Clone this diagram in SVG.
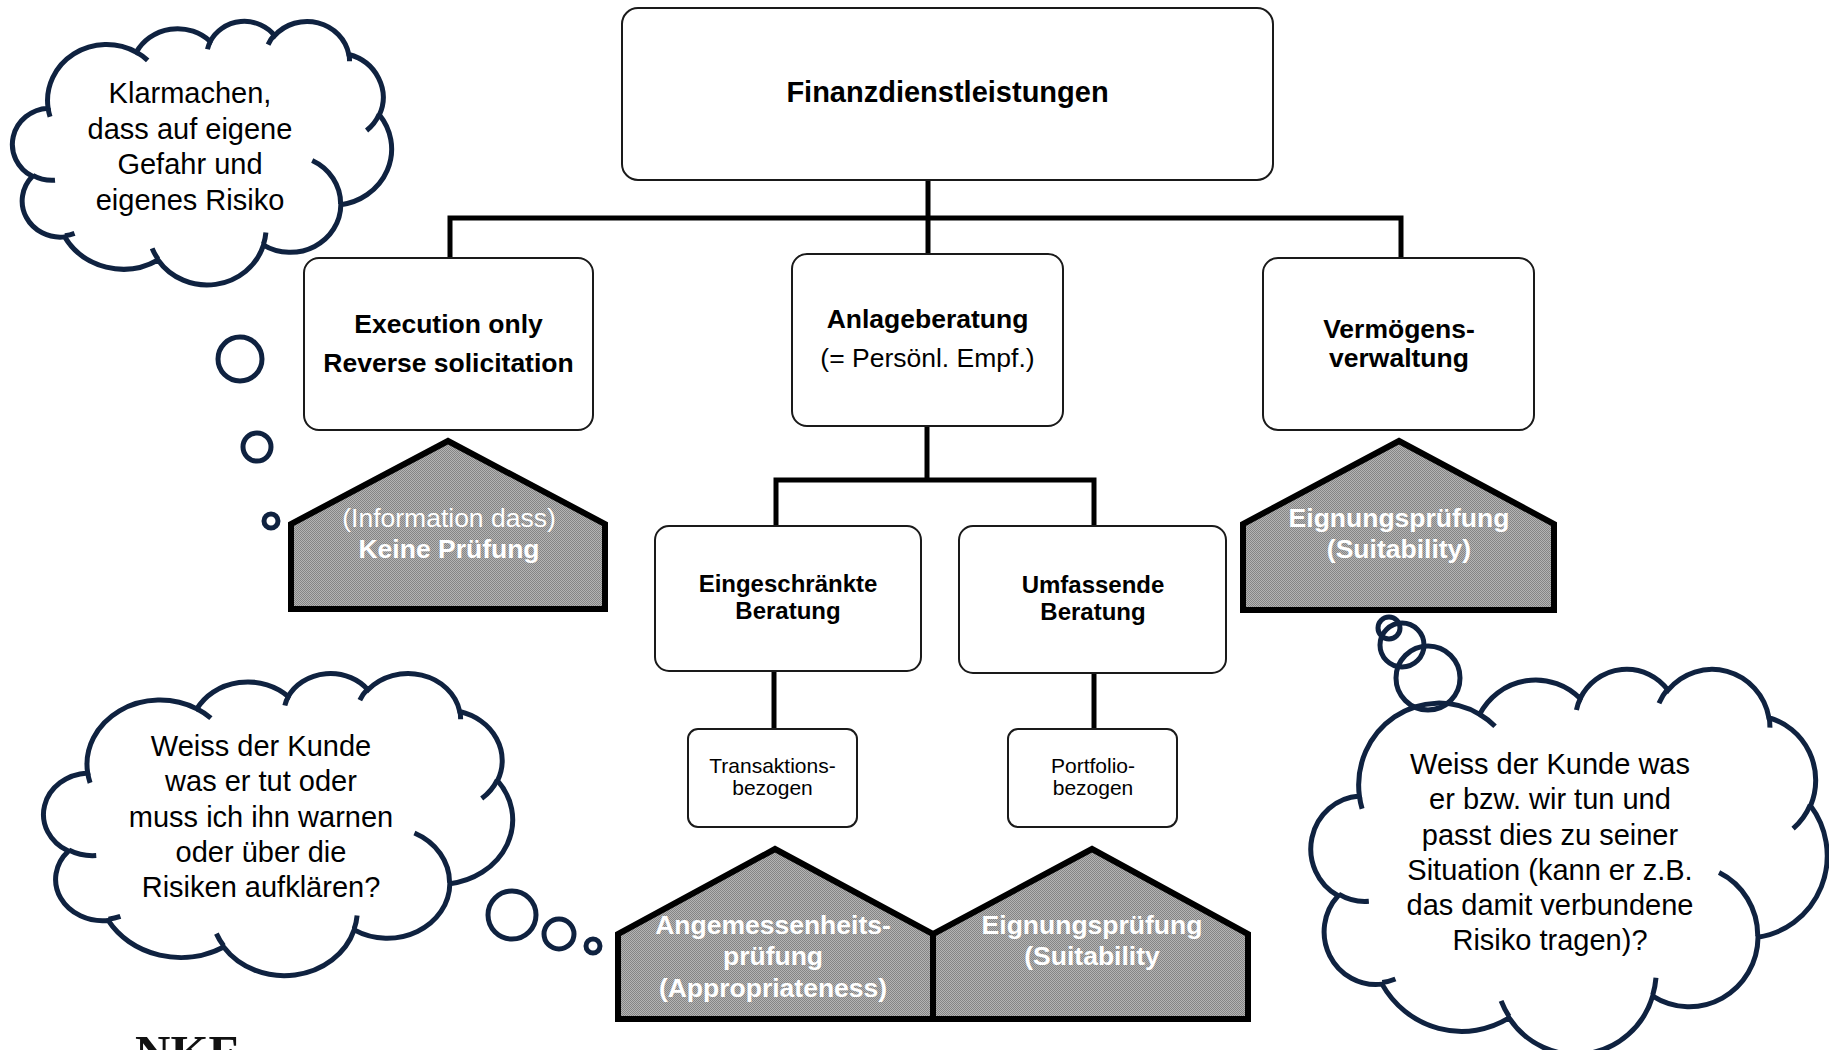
<svg xmlns="http://www.w3.org/2000/svg" xmlns:xlink="http://www.w3.org/1999/xlink" width="1829" height="1050" viewBox="0 0 1829 1050">
<style>
.box{fill:#fff;stroke:#1a1a1a;stroke-width:2}
.conn{fill:none;stroke:#000;stroke-width:5;stroke-linejoin:miter}
.house{fill:url(#dots);stroke:#000;stroke-width:6;stroke-linejoin:miter}
.cloud{fill:#fff;stroke:#0f2240;stroke-width:5;vector-effect:non-scaling-stroke}
.crease{fill:none;stroke:#0f2240;stroke-width:5;vector-effect:non-scaling-stroke}
.bubble{fill:none;stroke:#0f2240;stroke-width:5}
text{font-family:"Liberation Sans",Arial,sans-serif;text-anchor:middle;fill:#000}
.b{font-weight:bold;font-size:26.5px}
.r{font-size:26.5px}
.w{fill:#fff}
.s{font-size:21px}
.bm{font-weight:bold;font-size:24px}
.ct{font-size:29px}
</style>
<defs>
<pattern id="dots" width="2" height="2" patternUnits="userSpaceOnUse">
<rect width="2" height="2" fill="#b4b4b4"/>
<rect width="1" height="1" fill="#858585"/>
<rect x="1" y="1" width="1" height="1" fill="#858585"/>
</pattern>
<path id="cloudOutline" class="cloud" vector-effect="non-scaling-stroke" d="M39,143.7 A67.53,91.9 0 0 1 140.05,52.02 A53.33,72.67 0 0 1 224.56,34.32 A43.65,59.45 0 0 1 298.34,24.83 A48.57,65.95 0 0 1 383.19,55.79 A53.33,72.73 0 0 1 418.19,154.63 A67.75,92.2 0 0 1 374.03,302.03 A57.85,78.67 0 0 1 285.54,368.13 A67.52,92.15 0 0 1 164.79,392.65 A77.2,105.43 0 0 1 58.03,354.72 A43.6,59.18 0 0 1 21.12,255.49 A43.45,59.45 0 0 1 39,143.7 Z"/>
<path id="cloudCreases" class="crease" vector-effect="non-scaling-stroke" d="M46.93,261.77 A43.45,59.45 0 0 1 21.59,253.79 M69.28,348.99 A43.6,59.18 0 0 1 58.19,352.81 M164.78,390.9 A67.52,92.15 0 0 1 158.1,373.5 M288.27,347.51 A67.52,92.15 0 0 1 285.6,366.6 M341.29,229.54 A57.85,78.67 0 0 1 373.8,300.89 M417.98,153.54 A53.33,72.73 0 0 1 403.51,180.3 M383.24,54.26 A48.57,65.95 0 0 1 384.01,66.9 M290.78,39.52 A48.57,65.95 0 0 1 298.2,23.4 M221.41,47.2 A43.65,59.45 0 0 1 225,33.3 M140,51.92 A67.53,91.9 0 0 1 152.99,65.39 M41.27,157.89 A67.53,91.9 0 0 1 39,143.7"/>
</defs>
<rect width="1829" height="1050" fill="#fff"/>

<g id="connectors">
<path class="conn" d="M928,180 V254"/>
<path class="conn" d="M450,258 V218 H1401 V258"/>
<path class="conn" d="M927,427 V480"/>
<path class="conn" d="M776,526 V480 H1094 V526"/>
<path class="conn" d="M774,671 V729"/>
<path class="conn" d="M1094,673 V729"/>
</g>

<g id="finanzdienstleistungen">
<rect class="box" x="622" y="8" width="651" height="172" rx="16"/>
<text class="b" style="font-size:29px" x="947.5" y="102">Finanzdienstleistungen</text>
</g>

<g id="execution-only">
<rect class="box" x="304" y="258" width="289" height="172" rx="15"/>
<text class="b" x="448.5" y="333">Execution only</text>
<text class="b" x="448.5" y="372">Reverse solicitation</text>
</g>

<g id="anlageberatung">
<rect class="box" x="792" y="254" width="271" height="172" rx="15"/>
<text class="b" x="927.5" y="328">Anlageberatung</text>
<text class="r" x="927.5" y="367">(= Persönl. Empf.)</text>
</g>

<g id="vermoegensverwaltung">
<rect class="box" x="1263" y="258" width="271" height="172" rx="15"/>
<text class="b" x="1399" y="338">Vermögens-</text>
<text class="b" x="1399" y="367">verwaltung</text>
</g>

<g id="eingeschraenkte-beratung">
<rect class="box" x="655" y="526" width="266" height="145" rx="14"/>
<text class="bm" x="788" y="592">Eingeschränkte</text>
<text class="bm" x="788" y="619">Beratung</text>
</g>

<g id="umfassende-beratung">
<rect class="box" x="959" y="526" width="267" height="147" rx="14"/>
<text class="bm" x="1093" y="593">Umfassende</text>
<text class="bm" x="1093" y="620">Beratung</text>
</g>

<g id="transaktionsbezogen">
<rect class="box" x="688" y="729" width="169" height="98" rx="10"/>
<text class="s" x="772.5" y="773">Transaktions-</text>
<text class="s" x="772.5" y="795">bezogen</text>
</g>

<g id="portfoliobezogen">
<rect class="box" x="1008" y="729" width="169" height="98" rx="10"/>
<text class="s" x="1093" y="773">Portfolio-</text>
<text class="s" x="1093" y="795">bezogen</text>
</g>

<g id="keine-pruefung">
<path class="house" d="M448,441 L605,524 V609 H291 V524 Z"/>
<text class="r w" x="449" y="527">(Information dass)</text>
<text class="b w" x="449" y="558">Keine Prüfung</text>
</g>

<g id="eignungspruefung-verwaltung">
<path class="house" d="M1399,441 L1554,524 V610 H1243 V524 Z"/>
<text class="b w" x="1399" y="527">Eignungsprüfung</text>
<text class="b w" x="1399" y="558">(Suitability)</text>
</g>

<g id="angemessenheitspruefung">
<path class="house" d="M775,849 L933,934 V1019 H618 V934 Z"/>
<text class="b w" x="773" y="934">Angemessenheits-</text>
<text class="b w" x="773" y="965">prüfung</text>
<text class="b w" x="773" y="997">(Appropriateness)</text>
</g>

<g id="eignungspruefung-beratung">
<path class="house" d="M1092,849 L1248,934 V1019 H933 V934 Z"/>
<text class="b w" x="1092" y="934">Eignungsprüfung</text>
<text class="b w" x="1092" y="965">(Suitability</text>
</g>

<g id="cloud-eigene-gefahr">
<g transform="translate(14,20.5) scale(0.8738,0.61)">
<use xlink:href="#cloudOutline"/>
<use xlink:href="#cloudCreases"/>
</g>
<circle class="bubble" cx="240" cy="359" r="22"/>
<circle class="bubble" cx="257" cy="447" r="14"/>
<circle class="bubble" cx="271" cy="521" r="7"/>
<text class="ct" x="190" y="103">Klarmachen,</text>
<text class="ct" x="190" y="138.5">dass auf eigene</text>
<text class="ct" x="190" y="174">Gefahr und</text>
<text class="ct" x="190" y="209.5">eigenes Risiko</text>
</g>

<g id="cloud-warnen">
<g transform="translate(45.5,672.5) scale(1.081,0.6991)">
<use xlink:href="#cloudOutline"/>
<use xlink:href="#cloudCreases"/>
</g>
<circle class="bubble" cx="512" cy="915" r="24"/>
<circle class="bubble" cx="559" cy="934" r="15"/>
<circle class="bubble" cx="593" cy="946" r="7"/>
<text class="ct" x="261" y="756">Weiss der Kunde</text>
<text class="ct" x="261" y="791">was er tut oder</text>
<text class="ct" x="261" y="826.5">muss ich ihn warnen</text>
<text class="ct" x="261" y="861.5">oder über die</text>
<text class="ct" x="261" y="896.5">Risiken aufklären?</text>
</g>

<g id="cloud-situation">
<g transform="translate(1313,668) scale(1.1898,0.8912)">
<use xlink:href="#cloudOutline"/>
<use xlink:href="#cloudCreases"/>
</g>
<circle class="bubble" cx="1389" cy="628" r="11"/>
<circle class="bubble" cx="1402" cy="645" r="22"/>
<circle class="bubble" cx="1428" cy="678" r="32"/>
<text class="ct" x="1550" y="774">Weiss der Kunde was</text>
<text class="ct" x="1550" y="809">er bzw. wir tun und</text>
<text class="ct" x="1550" y="844.5">passt dies zu seiner</text>
<text class="ct" x="1550" y="880">Situation (kann er z.B.</text>
<text class="ct" x="1550" y="915">das damit verbundene</text>
<text class="ct" x="1550" y="950">Risiko tragen)?</text>
</g>

<text x="135" y="1069" style="font-family:'Liberation Serif','Times New Roman',serif;font-weight:bold;font-size:49px;text-anchor:start;fill:#111">NKF</text>
</svg>
